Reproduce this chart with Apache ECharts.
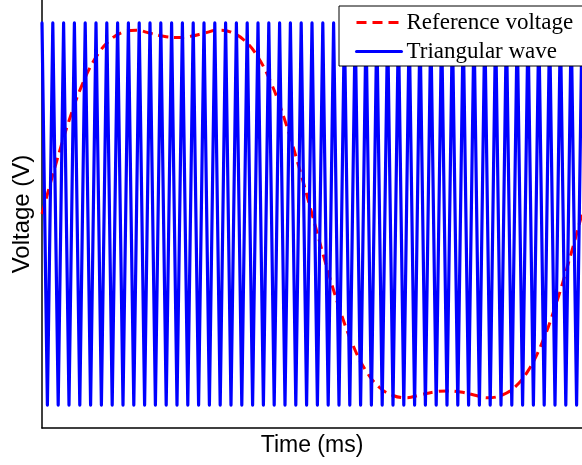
<!DOCTYPE html>
<html>
<head>
<meta charset="utf-8">
<script src="https://cdn.jsdelivr.net/npm/echarts@6/dist/echarts.min.js"></script>
<style>
html,body{margin:0;padding:0;background:#fff;}
#chart{width:582px;height:465px;}
</style>
</head>
<body>
<div id="chart"></div>
<script>
// Time axis samples (ms)
const triTime = [0,0.2,0.4,0.6,0.8,1,1.2,1.4,1.6,1.8,2,2.2,2.4,2.6,2.8,3,3.2,3.4,3.6,3.8,4,4.2,4.4,4.6,4.8,5,5.2,5.4,5.6,5.8,6,6.2,6.4,6.6,6.8,7,7.2,7.4,7.6,7.8,8,8.2,8.4,8.6,8.8,9,9.2,9.4,9.6,9.8,10,10.2,10.4,10.6,10.8,11,11.2,11.4,11.6,11.8,12,12.2,12.4,12.6,12.8,13,13.2,13.4,13.6,13.8,14,14.2,14.4,14.6,14.8,15,15.2,15.4,15.6,15.8,16,16.2,16.4,16.6,16.8,17,17.2,17.4,17.6,17.8,18,18.2,18.4,18.6,18.8,19,19.2,19.4,19.6,19.8,20];
// Triangular carrier vertices (V)
const triValue = [1,-1,1,-1,1,-1,1,-1,1,-1,1,-1,1,-1,1,-1,1,-1,1,-1,1,-1,1,-1,1,-1,1,-1,1,-1,1,-1,1,-1,1,-1,1,-1,1,-1,1,-1,1,-1,1,-1,1,-1,1,-1,1,-1,1,-1,1,-1,1,-1,1,-1,1,-1,1,-1,1,-1,1,-1,1,-1,1,-1,1,-1,1,-1,1,-1,1,-1,1,-1,1,-1,1,-1,1,-1,1,-1,1,-1,1,-1,1,-1,1,-1,1,-1,1];
// Reference voltage samples
const refTime = [0,0.5,1,1.5,2,2.5,3,3.5,4,4.5,5,5.5,6,6.5,7,7.5,8,8.5,9,9.5,10,10.5,11,11.5,12,12.5,13,13.5,14,14.5,15,15.5,16,16.5,17,17.5,18,18.5,19,19.5,20];
const refValue = [0,0.255,0.488,0.681,0.821,0.908,0.952,0.962,0.946,0.930,0.924,0.930,0.946,0.962,0.952,0.908,0.821,0.681,0.488,0.255,0,-0.255,-0.488,-0.681,-0.821,-0.908,-0.950,-0.962,-0.947,-0.932,-0.926,-0.932,-0.947,-0.962,-0.950,-0.908,-0.821,-0.681,-0.488,-0.255,0];

const seriesNames = ['Reference voltage','Triangular wave'];
const axisNames = {x:'Time (ms)', y:'Voltage (V)'};

const chart = echarts.init(document.getElementById('chart'), null, {renderer:'canvas'});
const zip = (a,b) => a.map((v,i)=>[v,b[i]]);

chart.setOption({
  animation:false,
  backgroundColor:'#fff',
  grid:{left:42, right:-7, top:-5, bottom:37, containLabel:false},
  xAxis:{
    type:'value', min:0, max:20,
    name:axisNames.x, nameLocation:'middle', nameGap:6,
    nameTextStyle:{fontFamily:'Liberation Sans', fontSize:23, color:'#000', verticalAlign:'top'},
    axisLine:{show:true, onZero:false, lineStyle:{color:'#000', width:1.5}},
    axisTick:{show:false}, axisLabel:{show:false}, splitLine:{show:false}
  },
  yAxis:{
    type:'value', min:-1.12, max:1.12,
    name:axisNames.y, nameLocation:'middle', nameGap:8,
    nameTextStyle:{fontFamily:'Liberation Sans', fontSize:24, color:'#000'},
    axisLine:{show:true, onZero:false, lineStyle:{color:'#000', width:1.5}},
    axisTick:{show:false}, axisLabel:{show:false}, splitLine:{show:false}
  },
  legend:{
    data:seriesNames,
    orient:'vertical', left:339, top:6,
    itemWidth:45, itemHeight:14, itemGap:6,
    padding:[5,20,3,16],
    borderColor:'#000', borderWidth:1, backgroundColor:'#fff',
    itemStyle:{opacity:0},
    lineStyle:{width:3},
    textStyle:{fontFamily:'Liberation Serif', fontSize:23, color:'#000', lineHeight:22}
  },
  series:[
    {
      name:seriesNames[0], type:'line', data:zip(refTime,refValue),
      smooth:0.4, symbol:'none', showSymbol:false, z:2,
      lineStyle:{color:'#ff0000', width:3, type:[10,6]},
      itemStyle:{color:'#ff0000'}
    },
    {
      name:seriesNames[1], type:'line', data:zip(triTime,triValue),
      symbol:'none', showSymbol:false, z:3,
      lineStyle:{color:'#0000ff', width:3.2, cap:'round', join:'round'},
      itemStyle:{color:'#0000ff'}
    }
  ]
});
</script>
</body>
</html>
